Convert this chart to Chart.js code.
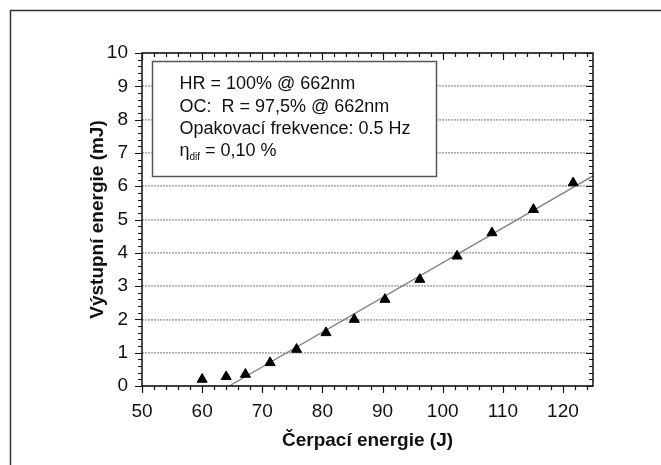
<!DOCTYPE html>
<html>
<head>
<meta charset="utf-8">
<script src="https://cdn.jsdelivr.net/npm/chart.js@4/dist/chart.umd.min.js"></script>
<style>
  html, body { margin: 0; padding: 0; background: #fff; }
  #wrap { width: 661px; height: 465px; }
</style>
</head>
<body>
<div id="wrap"><canvas id="chart" width="661" height="465"></canvas></div>
<script>
// měřená data
const pumpEnergy = [60, 64, 67.2, 71.3, 75.7, 80.6, 85.3, 90.4, 96.2, 102.4, 108.2, 115.1, 121.7];
const outputEnergy = [0.2, 0.28, 0.35, 0.7, 1.1, 1.6, 2.0, 2.6, 3.2, 3.9, 4.6, 5.3, 6.1];
// lineární fit
const fitX = [64.5, 125];
const fitY = [0, 6.31];
// popisky
const xTicks = [50, 60, 70, 80, 90, 100, 110, 120];
const xTitle = "Čerpací energie (J)";
const yTitle = "Výstupní energie (mJ)";
const infoLines = ["HR = 100% @ 662nm", "OC:  R = 97,5% @ 662nm", "Opakovací frekvence: 0.5 Hz"];
const etaParts = ["η", "dif", " = 0,10 %"];

const FONT = "'Liberation Sans', Arial, sans-serif";

// rámeček, vedlejší značky, textové pole
const framePlugin = {
  id: 'frame',
  beforeDraw(chart) {
    const { ctx } = chart;
    ctx.save();
    ctx.strokeStyle = '#333';
    ctx.lineWidth = 1.5;
    ctx.beginPath();
    ctx.moveTo(10.5, chart.height);
    ctx.lineTo(10.5, 10.5);
    ctx.lineTo(chart.width, 10.5);
    ctx.stroke();
    ctx.restore();
  },
  afterDatasetsDraw(chart) {
    const { ctx, chartArea: a, scales: { x, y } } = chart;
    ctx.save();
    ctx.strokeStyle = '#111';
    ctx.lineWidth = 1.5;
    ctx.strokeRect(a.left, a.top, a.right - a.left, a.bottom - a.top);

    ctx.lineWidth = 1.2;
    ctx.beginPath();
    for (let v = 50; v <= 124; v += 2) {
      const px = Math.round(x.getPixelForValue(v)) + 0.5;
      const len = v % 10 === 0 ? 7 : 4;
      ctx.moveTo(px, a.bottom); ctx.lineTo(px, a.bottom + len);
      ctx.moveTo(px, a.top); ctx.lineTo(px, a.top + len);
    }
    for (let i = 0; i <= 50; i++) {
      const py = Math.round(y.getPixelForValue(i / 5)) + 0.5;
      const len = i % 5 === 0 ? 7 : 4;
      ctx.moveTo(a.left - len, py); ctx.lineTo(a.left, py);
      ctx.moveTo(a.right - len, py); ctx.lineTo(a.right, py);
    }
    ctx.stroke();

    // textové pole
    const bx = a.left + 10.5, by = a.top + 8.5, bw = 284, bh = 115;
    ctx.fillStyle = '#fff';
    ctx.fillRect(bx, by, bw, bh);
    ctx.strokeStyle = '#555';
    ctx.lineWidth = 1.5;
    ctx.strokeRect(bx, by, bw, bh);

    ctx.fillStyle = '#111';
    ctx.font = '18px ' + FONT;
    ctx.textBaseline = 'middle';
    ctx.textAlign = 'left';
    const tx = bx + 27;
    infoLines.forEach((t, i) => ctx.fillText(t, tx, by + 23 + i * 22.3));
    const ey = by + 23 + 3 * 22.3;
    ctx.fillText(etaParts[0], tx, ey);
    let w = ctx.measureText(etaParts[0]).width;
    ctx.font = '10px ' + FONT;
    ctx.fillText(etaParts[1], tx + w, ey + 6);
    w += ctx.measureText(etaParts[1]).width;
    ctx.font = '18px ' + FONT;
    ctx.fillText(etaParts[2], tx + w, ey);
    ctx.restore();
  }
};

new Chart(document.getElementById('chart'), {
  type: 'scatter',
  data: {
    datasets: [{
      data: pumpEnergy.map((v, i) => ({ x: v, y: outputEnergy[i] })),
      pointStyle: 'triangle',
      pointRadius: 5.8,
      backgroundColor: '#000',
      borderColor: '#000',
      borderWidth: 1
    }, {
      data: fitX.map((v, i) => ({ x: v, y: fitY[i] })),
      showLine: true,
      pointRadius: 0,
      borderColor: '#808080',
      borderWidth: 1.3
    }]
  },
  options: {
    responsive: false,
    animation: false,
    layout: { padding: { left: 82, right: 68, top: 53, bottom: 9 } },
    plugins: { legend: { display: false }, tooltip: { enabled: false } },
    scales: {
      x: {
        min: 50, max: 125,
        afterFit(s) { s.height = 70; },
        afterBuildTicks(s) { s.ticks = xTicks.map(v => ({ value: v })); },
        ticks: { autoSkip: false, maxRotation: 0, color: '#111', padding: 14, font: { family: FONT, size: 19 } },
        grid: { display: false, drawTicks: false },
        border: { display: false },
        title: { display: true, text: xTitle, color: '#111', font: { family: FONT, size: 19, weight: 'bold' } }
      },
      y: {
        min: 0, max: 10,
        afterFit(s) { s.width = 60; },
        ticks: { stepSize: 1, color: '#111', padding: 14, font: { family: FONT, size: 19 } },
        grid: { color: 'rgba(150,150,150,0.75)', lineWidth: 1.8, drawTicks: false },
        border: { display: false, dash: [2, 1] },
        title: { display: true, text: yTitle, color: '#111', font: { family: FONT, size: 19, weight: 'bold' } }
      }
    }
  },
  plugins: [framePlugin]
});
</script>
</body>
</html>
